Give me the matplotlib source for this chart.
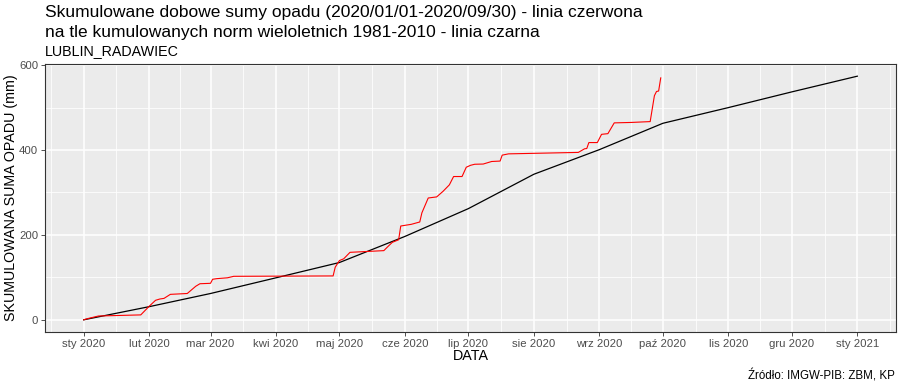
import matplotlib
matplotlib.use("Agg")
import matplotlib.pyplot as plt
import matplotlib.dates as mdates
import numpy as np
import pandas as pd

plt.rcParams['font.family'] = ['Liberation Sans', 'DejaVu Sans']

obs_dates = ["2020-01-01", "2020-01-03", "2020-01-08", "2020-01-28", "2020-02-01", "2020-02-04",
             "2020-02-06", "2020-02-08", "2020-02-11", "2020-02-19", "2020-02-23", "2020-02-25",
             "2020-03-01", "2020-03-02", "2020-03-04", "2020-03-09", "2020-03-12", "2020-04-28",
             "2020-04-29", "2020-05-01", "2020-05-03", "2020-05-06", "2020-05-22", "2020-05-24",
             "2020-05-26", "2020-05-29", "2020-05-30", "2020-06-04", "2020-06-08", "2020-06-09",
             "2020-06-12", "2020-06-16", "2020-06-19", "2020-06-22", "2020-06-24", "2020-06-28",
             "2020-06-30", "2020-07-02", "2020-07-04", "2020-07-08", "2020-07-10", "2020-07-12",
             "2020-07-16", "2020-07-17", "2020-07-20", "2020-08-22", "2020-08-25", "2020-08-26",
             "2020-08-27", "2020-08-31", "2020-09-02", "2020-09-05", "2020-09-08", "2020-09-16",
             "2020-09-25", "2020-09-27", "2020-09-28", "2020-09-29", "2020-09-30"]
obs_values = [0, 3, 9, 11.6, 32, 46,
              49, 50.5, 60, 62, 79, 85,
              86, 95.5, 97, 99, 102.5, 103.4,
              124, 139.7, 143.7, 159, 163, 173,
              182.5, 188.6, 221, 225, 230.5, 252,
              287, 289.6, 302.7, 318, 337.6, 337.6,
              359.5, 364, 366.5, 367, 370, 373,
              374, 388, 391, 394.4, 403, 403.5,
              417.6, 417.6, 437, 438.6, 464, 465,
              467, 528, 538, 539, 570]

# cumulative long-term norm 1981-2010
norm_dates = ["2020-01-01", "2020-02-01", "2020-03-01", "2020-04-01", "2020-05-01", "2020-06-01",
              "2020-07-01", "2020-08-01", "2020-09-01", "2020-10-01", "2020-11-01", "2020-12-01",
              "2021-01-01"]
norm_values = [0, 31, 62, 99, 135, 196.5, 262, 343, 401, 463, 500, 537, 574]

tick_dates = ["2020-01-01", "2020-02-01", "2020-03-01", "2020-04-01", "2020-05-01", "2020-06-01",
              "2020-07-01", "2020-08-01", "2020-09-01", "2020-10-01", "2020-11-01", "2020-12-01",
              "2021-01-01"]
tick_labels = ["sty 2020", "lut 2020", "mar 2020", "kwi 2020", "maj 2020", "cze 2020",
               "lip 2020", "sie 2020", "wrz 2020", "paź 2020", "lis 2020", "gru 2020", "sty 2021"]
y_ticks = [0, 200, 400, 600]

obs_x = mdates.date2num(pd.to_datetime(obs_dates))
norm_x = mdates.date2num(pd.to_datetime(norm_dates))
tick_x = mdates.date2num(pd.to_datetime(tick_dates))

fig = plt.figure(figsize=(9, 3.86), dpi=100)
ax = fig.add_axes([45/900, 1-332/386, (896-45)/900, (332-64)/386])
ax.set_facecolor('#EBEBEB')

# limits with 5% expansion
xmin, xmax = min(obs_x.min(), norm_x.min()), max(obs_x.max(), norm_x.max())
dx = (xmax - xmin) * 0.05
ax.set_xlim(xmin - dx, xmax + dx)
ymax = max(max(obs_values), max(norm_values))
dy = ymax * 0.05
ax.set_ylim(-dy, ymax + dy)

# grid
minor_x = [(tick_x[i] + tick_x[i+1]) / 2 for i in range(len(tick_x)-1)]
minor_x = [tick_x[0] - (tick_x[1]-tick_x[0])/2] + minor_x + [tick_x[-1] + (tick_x[-1]-tick_x[-2])/2]
for mx in minor_x:
    ax.axvline(mx, color='white', lw=0.55, zorder=0)
for my in [100, 300, 500]:
    ax.axhline(my, color='white', lw=0.55, zorder=0)
for tx in tick_x:
    ax.axvline(tx, color='white', lw=1.1, zorder=0)
for ty in y_ticks:
    ax.axhline(ty, color='white', lw=1.1, zorder=0)

ax.plot(norm_x, norm_values, color='black', lw=0.9, zorder=3)
ax.plot(obs_x, obs_values, color='red', lw=0.8, zorder=4)

ax.set_xticks(tick_x)
ax.set_xticklabels(tick_labels)
ax.set_yticks(y_ticks)
ax.tick_params(axis='both', colors='#333333', labelcolor='#4D4D4D', labelsize=8.2,
               length=3, width=0.6, pad=2)
for sp in ax.spines.values():
    sp.set_color('#333333')
    sp.set_linewidth(0.8)

ax.set_xlabel('DATA', fontsize=10.3, labelpad=0)
ax.set_ylabel('SKUMULOWANA SUMA OPADU (mm)', fontsize=10.3, labelpad=0.5)

fig.text(45/900, 1-12/386, 'Skumulowane dobowe sumy opadu (2020/01/01-2020/09/30) - linia czerwona',
         fontsize=12.5, va='center', ha='left')
fig.text(45/900, 1-32/386, 'na tle kumulowanych norm wieloletnich 1981-2010 - linia czarna',
         fontsize=12.5, va='center', ha='left')
fig.text(45/900, 1-51/386, 'LUBLIN_RADAWIEC', fontsize=10.3, va='center', ha='left')
fig.text(895/900, 1-376/386, 'Źródło: IMGW-PIB: ZBM, KP', fontsize=8.3, va='center', ha='right')

fig.savefig('out.png', dpi=100)
